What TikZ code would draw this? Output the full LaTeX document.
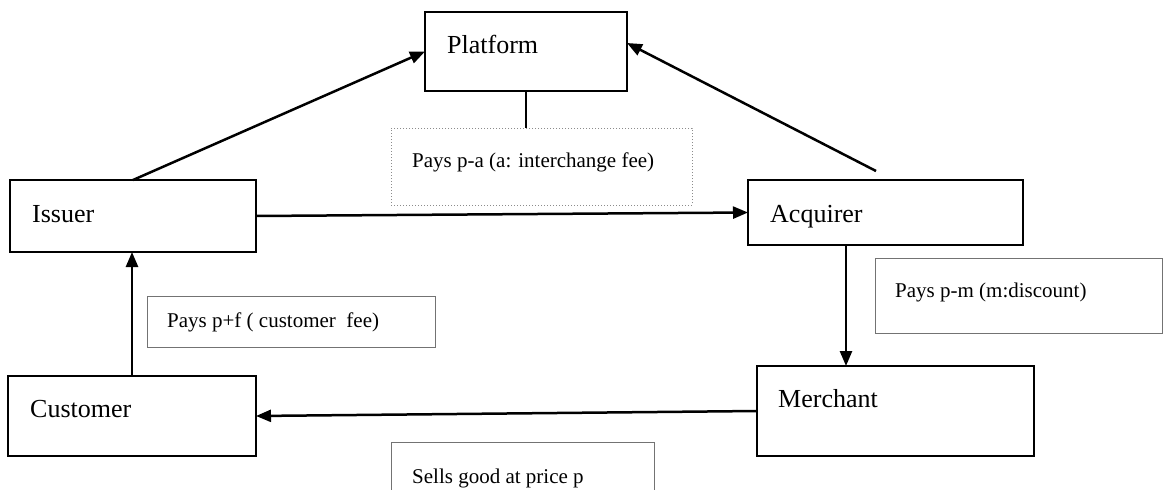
\documentclass[tikz,border=0pt]{standalone}
\usepackage{fontspec}
\setmainfont{Liberation Serif}
\usetikzlibrary{arrows.meta}
\begin{document}
\begin{tikzpicture}[x=1pt,y=-1pt,
  mainbox/.style={draw, line width=2pt, anchor=north west, inner sep=0pt, outer sep=0pt},
  infobox/.style={draw=black!55, line width=1pt, anchor=north west, inner sep=0pt, outer sep=0pt},
  dotbox/.style={draw=black!45, line width=1pt, dotted, anchor=north west, inner sep=0pt, outer sep=0pt},
  bigtext/.style={anchor=base west, inner sep=0pt, font=\fontsize{26}{30}\selectfont},
  smalltext/.style={anchor=base west, inner sep=0pt, font=\fontsize{21}{25}\selectfont},
  arr/.style={line width=2.5pt, -{Triangle[length=15pt,width=12pt]}},
  plain/.style={line width=2.5pt}]
\useasboundingbox (0,0) rectangle (1163,490);
\fill[white] (0,0) rectangle (1163,490);

% main boxes
\node[mainbox, minimum width=202pt, minimum height=79pt] (platform) at (425,12) {};
\node[mainbox, minimum width=246pt, minimum height=72pt] (issuer) at (10,180) {};
\node[mainbox, minimum width=275pt, minimum height=65pt] (acquirer) at (748,180) {};
\node[mainbox, minimum width=277pt, minimum height=90pt] (merchant) at (757,366) {};
\node[mainbox, minimum width=248pt, minimum height=80pt] (customer) at (8,376) {};

% labels of main boxes
\node[bigtext] (tplatform) at (447,53) {Platform};
\node[bigtext] (tissuer) at (32,222) {Issuer};
\node[bigtext] (tacquirer) at (770,222) {Acquirer};
\node[bigtext] (tmerchant) at (778,407) {Merchant};
\node[bigtext] (tcustomer) at (30,417) {Customer};

% info boxes
\node[dotbox, minimum width=301pt, minimum height=77pt] (pa) at (391,128) {};
\node[infobox, minimum width=287pt, minimum height=75pt] (pm) at (875,258) {};
\node[infobox, minimum width=288pt, minimum height=51pt] (pf) at (147,296) {};
\draw[black!55, line width=1pt] (391,491) -- (391,442) -- (654,442) -- (654,491);

\node[smalltext] (tpa) at (412,167) {Pays p-a (a: interchange fee)};
\node[smalltext] (tpm) at (895,297) {Pays p-m (m:discount)};
\node[smalltext] (tpf) at (167,327) {Pays p+f ( customer~ fee)};
\node[smalltext] (tsg) at (412,483) {Sells good at price p};

% connectors
\coordinate (am) at (846,0);
\draw[arr] (issuer.north) -- (platform.west);
\draw[arr] ([xshift=-9.5pt,yshift=9pt]acquirer.north) -- ([yshift=8.5pt]platform.east);
\draw[arr] (issuer.east) -- (acquirer.west);
\draw[arr] (am |- acquirer.south) -- (am |- merchant.north);
\draw[arr] (merchant.west) -- (customer.east);
\draw[arr] (customer.north) -- (customer.north |- issuer.south);
\draw[plain] (platform.south) -- (platform.south |- pa.north);
\end{tikzpicture}
\end{document}
